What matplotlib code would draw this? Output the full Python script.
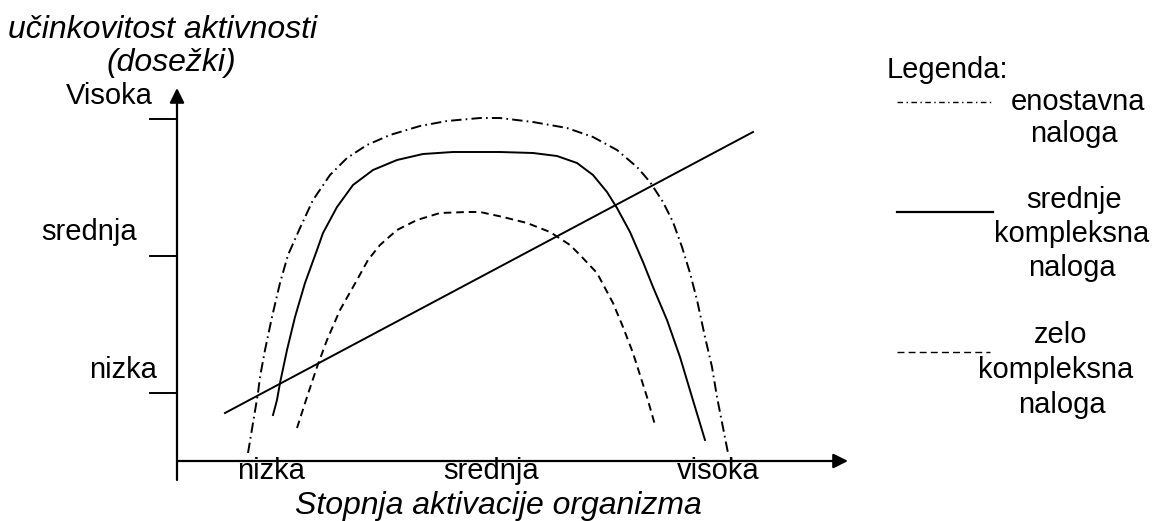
import numpy as np
import matplotlib
matplotlib.use("Agg")
import matplotlib.pyplot as plt

plt.rcParams['font.family'] = ['Liberation Sans', 'DejaVu Sans']
plt.rcParams['lines.scale_dashes'] = False

# --- podatki (shema, odčitano s slike; x 0-671, y 0-370) ---
enostavna_x = [71, 81, 83, 88, 95, 103, 111, 123, 136, 153, 170, 190, 213, 243,
               270, 303, 323, 356, 390, 416, 440, 460, 473, 486, 496, 505, 513,
               520, 528, 535, 540, 551]
enostavna_y = [8, 68, 84, 111, 144, 178, 206, 233, 261, 286, 303, 316, 326, 335,
               340, 343, 343, 339, 333, 324, 311, 294, 279, 259, 239, 214, 188,
               161, 124, 94, 64, 8]

srednje_x = [96, 100, 103, 110, 118, 128, 140, 146, 160, 176, 196, 220, 246,
             276, 303, 323, 356, 380, 400, 416, 430, 440, 453, 466, 476, 490,
             503, 515, 528]
srednje_y = [46, 61, 78, 111, 144, 178, 211, 228, 254, 276, 291, 301, 307,
             309, 309, 309, 308, 305, 298, 286, 269, 253, 229, 199, 174, 141,
             104, 64, 21]

zelo_x = [120, 130, 140, 150, 163, 180, 191, 203, 220, 240, 263, 290, 303,
          326, 350, 373, 393, 403, 420, 436, 446, 456, 470, 478]
zelo_y = [33, 64, 94, 121, 151, 181, 201, 216, 231, 241, 248, 249, 249,
          244, 238, 229, 216, 206, 188, 158, 134, 108, 64, 36]

aktivacija_x = [48, 576]
aktivacija_y = [48, 329]

y_ticks = [68.5, 205.5, 342.5]
y_labels = ['nizka', 'srednja', 'Visoka']
x_labels = ['nizka', 'srednja', 'visoka']

W, H = 1152, 521
fig = plt.figure(figsize=(W / 100, H / 100), dpi=100)

# pomožne osi v pikslih za besedila
ov = fig.add_axes([0, 0, 1, 1])
ov.set_xlim(0, W)
ov.set_ylim(H, 0)
ov.axis('off')

# glavne osi: izhodišče (177, 461)
x0, y0, x1, y1 = 177, 461, 848, 91
ax = fig.add_axes([x0 / W, (H - y0) / H, (x1 - x0) / W, (y0 - y1) / H])
ax.set_xlim(0, x1 - x0)
ax.set_ylim(0, y0 - y1)
ax.axis('off')

lw = 1.4
ax.plot(enostavna_x, enostavna_y, color='k', lw=lw, ls=(0, (7.5, 3, 1.2, 3)))
ax.plot(srednje_x, srednje_y, color='k', lw=lw, ls='-')
ax.plot(zelo_x, zelo_y, color='k', lw=lw, ls=(0, (5.5, 3.5)))
ax.plot(aktivacija_x, aktivacija_y, color='k', lw=lw, ls='-')

# osi s puščicami
arrow = dict(arrowstyle='-|>', lw=1.6, color='k', mutation_scale=22,
             shrinkA=0, shrinkB=0)
ax.annotate('', xy=(671, 0), xytext=(0, 0), arrowprops=arrow,
            annotation_clip=False)
ax.annotate('', xy=(0, 373), xytext=(0, -19), arrowprops=arrow,
            annotation_clip=False)
for t in y_ticks:
    ax.plot([-27, 0], [t, t], color='k', lw=1.4, clip_on=False)

fs = 21
fsi = 23
# oznake na y osi
for lab, t, xr in zip(y_labels, y_ticks, [157, 137, 153]):
    ov.text(xr, y0 - t - 23, lab, ha='right', va='center', fontsize=fs)
# oznake na x osi
for lab, px in zip(x_labels, [271, 491, 718]):
    ov.text(px, 471, lab, ha='center', va='center', fontsize=fs)

ov.text(163, 30, 'učinkovitost aktivnosti', ha='center', va='center',
        fontsize=fsi, style='italic')
ov.text(171, 63, '(dosežki)', ha='center', va='center',
        fontsize=fsi, style='italic')
ov.text(498, 506, 'Stopnja aktivacije organizma', ha='center', va='center',
        fontsize=fsi, style='italic')

# legenda
ov.text(887, 70, 'Legenda:', ha='left', va='center', fontsize=fs)
ov.plot([897, 992], [102, 102], color='k', lw=1.0, ls=(0, (4, 2.5, 1, 2.5)))
ov.plot([897, 993], [212, 212], color='k', lw=1.6, ls='-')
ov.plot([897, 990], [352, 352], color='k', lw=1.0, ls=(0, (5, 3)))
for txt, px, py in [('enostavna', 1078, 102), ('naloga', 1074, 134),
                    ('srednje', 1074, 200), ('kompleksna', 1072, 234),
                    ('naloga', 1072, 268), ('zelo', 1061, 335),
                    ('kompleksna', 1056, 370), ('naloga', 1062, 405)]:
    ov.text(px, py, txt, ha='center', va='center', fontsize=fs)

fig.savefig('out.png', dpi=100)
